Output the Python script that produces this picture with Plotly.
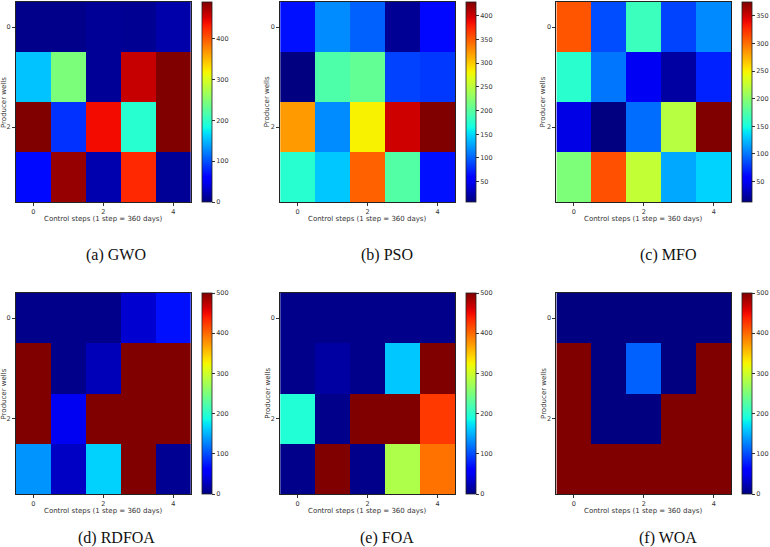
import numpy as np
import plotly.graph_objects as go

# ---------------- data ----------------
steps = [0, 1, 2, 3, 4]
wells = [0, 1, 2, 3]

gwo = [[5, 5, 10, 8, 18],
       [155, 245, 10, 460, 490],
       [490, 85, 440, 195, 490],
       [65, 480, 20, 425, 10]]
pso = [[66, 117, 100, 15, 62],
       [7, 195, 205, 87, 83],
       [322, 117, 283, 400, 429],
       [175, 142, 348, 197, 66]]
mfo = [[310, 85, 165, 82, 107],
       [158, 100, 50, 24, 70],
       [45, 13, 97, 220, 375],
       [195, 312, 225, 118, 133]]
rdfoa = [[5, 5, 5, 35, 70],
         [500, 5, 25, 500, 500],
         [500, 50, 500, 500, 500],
         [135, 30, 165, 500, 8]]
foa = [[5, 5, 5, 5, 5],
       [5, 15, 5, 160, 500],
       [195, 5, 500, 500, 425],
       [5, 500, 5, 280, 395]]
woa = [[0, 0, 0, 0, 0],
       [500, 0, 110, 0, 500],
       [500, 0, 0, 500, 500],
       [500, 500, 500, 500, 500]]

panels = [gwo, pso, mfo, rdfoa, foa, woa]
captions = ["(a) GWO", "(b) PSO", "(c) MFO", "(d) RDFOA", "(e) FOA", "(f) WOA"]
zranges = [(0, 490), (7, 429), (13, 375), (0, 500), (0, 500), (0, 500)]
cb_ticks = [[0, 100, 200, 300, 400],
            [50, 100, 150, 200, 250, 300, 350, 400],
            [50, 100, 150, 200, 250, 300, 350],
            [0, 100, 200, 300, 400, 500],
            [0, 100, 200, 300, 400, 500],
            [0, 100, 200, 300, 400, 500]]
xtick_vals = [0, 2, 4]
ytick_vals = [0, 2]
xlabel = "Control steps (1 step = 360 days)"
ylabel = "Producer wells"

# ---------------- matplotlib jet colorscale ----------------
def seg(pts, t):
    xs = [p[0] for p in pts]
    ys = [p[1] for p in pts]
    return float(np.interp(t, xs, ys))

R = [(0, 0), (0.35, 0), (0.66, 1), (0.89, 1), (1, 0.5)]
G = [(0, 0), (0.125, 0), (0.375, 1), (0.64, 1), (0.91, 0), (1, 0)]
B = [(0, 0.5), (0.11, 1), (0.34, 1), (0.65, 0), (1, 0)]
jet = []
for t in np.linspace(0, 1, 41):
    r, g, b = (round(255 * seg(c, t)) for c in (R, G, B))
    jet.append([float(t), f"rgb({r},{g},{b})"])

# ---------------- layout geometry (pixels) ----------------
W, H = 770, 547
col_x = [(16, 192), (282, 458), (560, 736)]
cb_x = [203, 469, 747]
row_y = [(2, 202), (293, 494)]
xtitle_dy = 17
cap_y = [255, 538]
cap_x = [117, 390, 672]
ytitle_x = [4, 269, 547]

fig = go.Figure()
layout = dict(width=W, height=H, margin=dict(l=0, r=0, t=0, b=0),
              paper_bgcolor="white", plot_bgcolor="white", showlegend=False)
annotations = []
axfont = dict(family="DejaVu Sans", size=6.5, color="#333333")
titlefont = dict(family="DejaVu Sans", size=7, color="#333")
for i, z in enumerate(panels):
    r, c = divmod(i, 3)
    n = i + 1
    xa = "x" if n == 1 else f"x{n}"
    ya = "y" if n == 1 else f"y{n}"
    x0, x1 = col_x[c]
    y0, y1 = row_y[r]
    zmin, zmax = zranges[i]
    fig.add_trace(go.Heatmap(
        z=z, x=steps, y=wells, xaxis=xa, yaxis=ya,
        colorscale=jet, zmin=zmin, zmax=zmax,
        colorbar=dict(
            x=cb_x[c] / W, xanchor="left", y=1 - y0 / H, yanchor="top",
            len=(y1 - y0), lenmode="pixels",
            thickness=10, thicknessmode="pixels",
            outlinewidth=0.8, outlinecolor="#222",
            tickvals=cb_ticks[i], ticks="outside", ticklen=3, tickwidth=0.8,
            tickcolor="#333", tickfont=dict(family="DejaVu Sans", size=6.5, color="#333"),
            xpad=0, ypad=0),
        hoverongaps=False))
    ak = "xaxis" if n == 1 else f"xaxis{n}"
    yk = "yaxis" if n == 1 else f"yaxis{n}"
    layout[ak] = dict(domain=[x0 / W, x1 / W], anchor=ya, range=[-0.5, 4.5],
                      tickvals=xtick_vals, ticks="outside", ticklen=3, tickwidth=0.8,
                      tickcolor="#333", tickfont=axfont, showgrid=False, zeroline=False,
                      showline=True, linecolor="#222", linewidth=0.8, mirror=True)
    layout[yk] = dict(domain=[1 - y1 / H, 1 - y0 / H], anchor=xa, range=[3.5, -0.5],
                      tickvals=ytick_vals, ticks="outside", ticklen=3, tickwidth=0.8,
                      tickcolor="#333", tickfont=axfont, showgrid=False, zeroline=False,
                      showline=True, linecolor="#222", linewidth=0.8, mirror=True)
    annotations.append(dict(text=xlabel, x=((x0 + x1) / 2) / W, y=1 - (y1 + xtitle_dy) / H,
                            xref="paper", yref="paper", xanchor="center", yanchor="middle",
                            showarrow=False, font=titlefont))
    annotations.append(dict(text=ylabel, x=ytitle_x[c] / W, y=1 - ((y0 + y1) / 2) / H,
                            xref="paper", yref="paper", xanchor="center", yanchor="middle",
                            textangle=-90, showarrow=False, font=titlefont))
    annotations.append(dict(text=captions[i], x=cap_x[c] / W, y=1 - cap_y[r] / H,
                            xref="paper", yref="paper", xanchor="center", yanchor="middle",
                            showarrow=False,
                            font=dict(family="Liberation Serif", size=16, color="#111")))
layout["annotations"] = annotations
fig.update_layout(**layout)
fig.write_html("out.html")
